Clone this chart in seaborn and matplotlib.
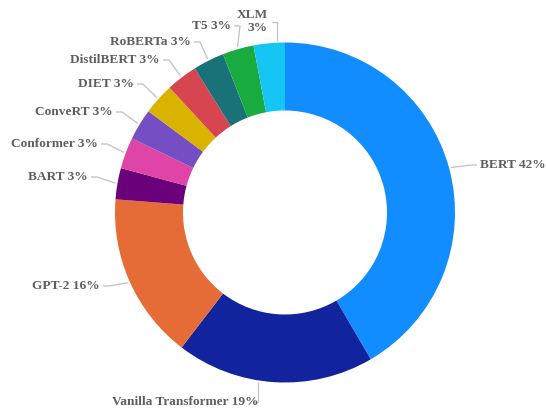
import numpy as np
import matplotlib
matplotlib.use("Agg")
import matplotlib.pyplot as plt
import seaborn as sns

# ---- data ----
models = ["BERT", "Vanilla Transformer", "GPT-2", "BART", "Conformer", "ConveRT",
          "DIET", "DistilBERT", "RoBERTa", "T5", "XLM"]
shares = [42, 19, 16, 3, 3, 3, 3, 3, 3, 3, 3]
colors = ["#118DFF", "#12239E", "#E66C37", "#6B007B", "#E044A7", "#744EC2",
          "#D9B300", "#D64550", "#197278", "#1AAB40", "#15C6F4"]

sns.set_theme(style="white")
plt.rcParams["font.family"] = ["Liberation Serif", "DejaVu Serif"]

W, H = 546, 409
fig = plt.figure(figsize=(W / 100, H / 100), dpi=100)
ax = fig.add_axes([0, 0, 1, 1])

cx, cy = 285, 212.5          # centre (pixel coords, y down)
R, ring = 170, 68

ax.pie(shares, colors=colors, startangle=90, counterclock=False,
       radius=R, center=(cx, H - cy),
       wedgeprops=dict(width=ring, linewidth=0))
ax.set_xlim(0, W)
ax.set_ylim(0, H)
ax.set_aspect("equal")
ax.axis("off")

total = sum(shares)
frac = np.array(shares) / total
cum = np.concatenate([[0], np.cumsum(frac)])

# label placement (pixel coords, y down): x, y, ha, anchor fraction in slice, mode
layout = {
    "BERT": (480, 165, "left", 0.5, "h"),
    "Vanilla Transformer": (259, 402, "right", 0.58, "v"),
    "GPT-2": (100, 286, "right", 0.5, "h"),
    "BART": (88, 177, "right", 0.5, "h"),
    "Conformer": (98, 144, "right", 0.5, "h"),
    "ConveRT": (113, 112, "right", 0.5, "h"),
    "DIET": (134, 84, "right", 0.5, "h"),
    "DistilBERT": (160, 60, "right", 0.5, "h"),
    "RoBERTa": (191, 42, "right", 0.5, "h"),
    "T5": (231, 26, "right", 0.5, "h"),
    "XLM": (268, 21.5, "right", 0.75, "v"),
}

txt_color = "#605E5C"
line_color = "#C8C6C4"

for i, name in enumerate(models):
    tx, ty, ha, af, mode = layout[name]
    pct = int(round(frac[i] * 100))
    label = f"{name}\n{pct}%" if name == "XLM" else f"{name} {pct}%"
    ang = 2 * np.pi * (cum[i] + af * frac[i])
    sx = cx + (R + 2) * np.sin(ang)
    sy = cy - (R + 2) * np.cos(ang)
    if mode == "h":
        d = -1 if ha == "right" else 1
        ex, ey = tx - d * 9, ty
        fx, fy = tx - d * 3, ty
        xs, ys = [sx, ex, fx], [sy, ey, fy]
    else:
        xs, ys = [sx, sx, sx - 5], [sy, ty, ty]
    ax.plot(xs, [H - y for y in ys], color=line_color, lw=1, solid_capstyle="butt")
    ax.text(tx, H - ty, label, ha=ha, va="center", multialignment="right",
            fontsize=9.6, fontweight="bold", color=txt_color, linespacing=1.05)

fig.savefig("out.png", dpi=100, facecolor="white")
